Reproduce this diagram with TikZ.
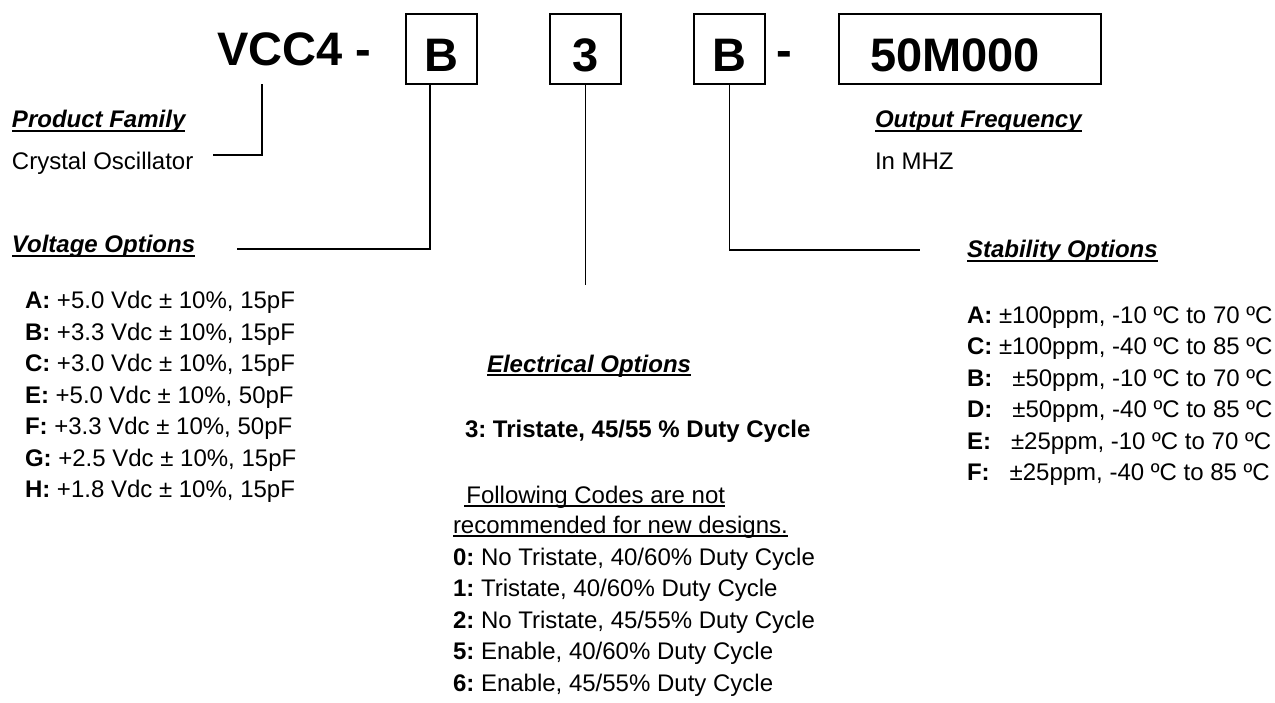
\documentclass[tikz,border=0pt]{standalone}
\usepackage{fontspec}
\setmainfont{Liberation Sans}
\frenchspacing
\begin{document}
\frenchspacing
\begin{tikzpicture}[x=1pt,y=-1pt,
  big/.style={inner sep=0pt, outer sep=0pt, font=\fontsize{47}{52}\selectfont\bfseries},
  txt/.style={inner sep=0pt, outer sep=0pt, anchor=base west, font=\fontsize{24}{28}\selectfont\frenchspacing},
  bld/.style={txt, font=\fontsize{24}{28}\selectfont\bfseries\frenchspacing},
  hdr/.style={txt, font=\fontsize{24}{28}\selectfont\bfseries\itshape\frenchspacing},
  codebox/.style={draw, line width=1.8pt, inner sep=0pt, outer sep=0pt, minimum height=70pt},
  link/.style={line width=1.8pt},
  ulb/.style={line width=2.2pt},
  uln/.style={line width=1.5pt}]
\useasboundingbox (0,0) rectangle (1275,702);

% code boxes
\node[codebox, minimum width=71pt] (boxB) at (441.5,49) {};
\node[codebox, minimum width=71pt] (box3) at (585.5,49) {};
\node[codebox, minimum width=71pt] (boxS) at (729.5,49) {};
\node[codebox, minimum width=262pt] (boxF) at (970,49) {};

\node[big, anchor=base] (lB) at (441.5,71) {B};
\node[big, anchor=base] (l3) at (585.5,71) {3};
\node[big, anchor=base] (lS) at (729.5,71) {B};
\node[big, anchor=base west] (lF) at (870,71) {50M000};
\node[big, anchor=base west] (vcc) at (217,65) {VCC4 -};
\node[big, anchor=base west] (dash) at (776,66) {-};

% Product family
\node[hdr] (pf) at (12,127) {Product Family};
\draw[ulb] ([yshift=-4pt]pf.base west) -- ([yshift=-4pt]pf.base east);
\node[txt] (pfv) at (12,169) {Crystal Oscillator};

% Output frequency
\node[hdr] (of) at (875,127) {Output Frequency};
\draw[ulb] ([yshift=-4pt]of.base west) -- ([yshift=-4pt]of.base east);
\node[txt] (ofv) at (875,169) {In MHZ};

% Voltage options
\node[hdr] (vo) at (12,252) {Voltage Options};
\draw[ulb] ([yshift=-4pt]vo.base west) -- ([yshift=-4pt]vo.base east);
\node[txt] (v1) at (25,308.5) {\textbf{A:} +5.0 Vdc ± 10\%, 15pF};
\node[txt] (v2) at (25,340)   {\textbf{B:} +3.3 Vdc ± 10\%, 15pF};
\node[txt] (v3) at (25,371.5) {\textbf{C:} +3.0 Vdc ± 10\%, 15pF};
\node[txt] (v4) at (25,403)   {\textbf{E:} +5.0 Vdc ± 10\%, 50pF};
\node[txt] (v5) at (25,434.5) {\textbf{F:} +3.3 Vdc ± 10\%, 50pF};
\node[txt] (v6) at (25,466)   {\textbf{G:} +2.5 Vdc ± 10\%, 15pF};
\node[txt] (v7) at (25,497.5) {\textbf{H:} +1.8 Vdc ± 10\%, 15pF};

% Electrical options
\node[hdr] (eo) at (487,372) {Electrical Options};
\draw[ulb] ([yshift=-3pt]eo.base west) -- ([yshift=-3pt]eo.base east);
\node[bld] (e3) at (465,437) {3: Tristate, 45/55 \% Duty Cycle};
\node[txt] (fc) at (453,503) {\ \ Following Codes are not};
\draw[uln] ([xshift=11pt,yshift=-3pt]fc.base west) -- ([yshift=-3pt]fc.base east);
\node[txt] (rc) at (453,533) {recommended for new designs.};
\draw[uln] ([yshift=-3pt]rc.base west) -- ([yshift=-3pt]rc.base east);
\node[txt] (e0) at (453,565)   {\textbf{0:} No Tristate, 40/60\% Duty Cycle};
\node[txt] (e1) at (453,596.5) {\textbf{1:} Tristate, 40/60\% Duty Cycle};
\node[txt] (e2) at (453,628)   {\textbf{2:} No Tristate, 45/55\% Duty Cycle};
\node[txt] (e5) at (453,659.5) {\textbf{5:} Enable, 40/60\% Duty Cycle};
\node[txt] (e6) at (453,691)   {\textbf{6:} Enable, 45/55\% Duty Cycle};

% Stability options
\node[hdr] (so) at (967,257) {Stability Options};
\draw[ulb] ([yshift=-4pt]so.base west) -- ([yshift=-4pt]so.base east);
\node[txt] (s1) at (967,323)   {\textbf{A:} ±100ppm, -10 ºC to 70 ºC};
\node[txt] (s2) at (967,354.5) {\textbf{C:} ±100ppm, -40 ºC to 85 ºC};
\node[txt] (s3) at (967,386)   {\textbf{B:}\ \ \ ±50ppm, -10 ºC to 70 ºC};
\node[txt] (s4) at (967,417.5) {\textbf{D:}\ \ \ ±50ppm, -40 ºC to 85 ºC};
\node[txt] (s5) at (967,449)   {\textbf{E:}\ \ \ ±25ppm, -10 ºC to 70 ºC};
\node[txt] (s6) at (967,480.5) {\textbf{F:}\ \ \ ±25ppm, -40 ºC to 85 ºC};

% connector ends
\coordinate (pfEnd) at (213,155);
\coordinate (voEnd) at (237,249);
\coordinate (eoEnd) at (585.5,285);
\coordinate (soEnd) at (920,250);

% connectors
\draw[link] ([xshift=45pt,yshift=-19pt]vcc.base west) |- (pfEnd);
\draw[link] ([xshift=-11.5pt]boxB.south) |- (voEnd);
\draw[link] (box3.south) -- (eoEnd);
\draw[link] (boxS.south) |- (soEnd);
\end{tikzpicture}
\end{document}
